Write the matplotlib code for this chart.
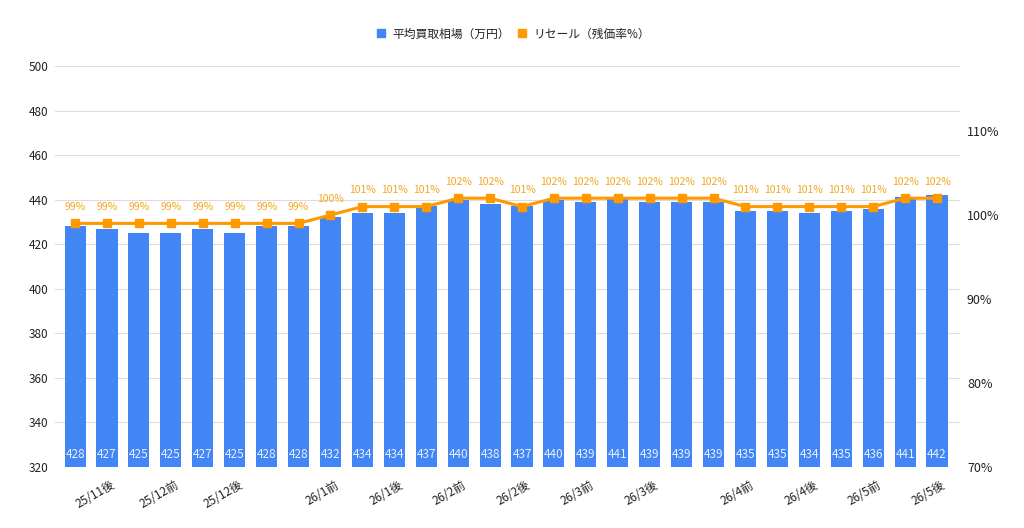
import matplotlib.pyplot as plt
import matplotlib.transforms as mtransforms
from matplotlib.lines import Line2D

plt.rcParams['font.family'] = ['Noto Sans CJK JP', 'DejaVu Sans']

# data
prices = [428, 427, 425, 425, 427, 425, 428, 428, 432, 434, 434, 437, 440, 438,
          437, 440, 439, 441, 439, 439, 439, 435, 435, 434, 435, 436, 441, 442]
resale = [99, 99, 99, 99, 99, 99, 99, 99, 100, 101, 101, 101, 102, 102,
          101, 102, 102, 102, 102, 102, 102, 101, 101, 101, 101, 101, 102, 102]
x_labels = ['', '25/11後', '', '25/12前', '', '25/12後', '', '', '26/1前', '', '26/1後', '', '26/2前', '',
            '26/2後', '', '26/3前', '', '26/3後', '', '', '26/4前', '', '26/4後', '', '26/5前', '', '26/5後']
legend_labels = ['平均買取相場（万円）', 'リセール（残価率%）']

blue = '#4285F4'
orange = '#FF9900'
x = list(range(len(prices)))

fig = plt.figure(figsize=(10.24, 5.28), dpi=100)
ax = fig.add_axes([55 / 1024, 61 / 528, 905 / 1024, 401 / 528])
ax2 = ax.twinx()

# bars
ax.bar(x, prices, width=0.66, color=blue, zorder=2)
for i, v in enumerate(prices):
    ax.annotate(str(v), (i, 320), xytext=(0, 4), textcoords='offset points',
                ha='center', va='bottom', fontsize=8.5, color='#e8efff', zorder=3)

ax.set_ylim(320, 500)
ax.set_yticks(range(320, 501, 20))
ax.set_xlim(-0.63, 27.72)
ax.grid(axis='y', color='#dddddd', linewidth=0.8, zorder=0)
ax.set_axisbelow(True)
ax.tick_params(axis='y', length=0, labelsize=8.5, labelcolor='#222222', pad=19)
for lbl in ax.get_yticklabels():
    lbl.set_horizontalalignment('left')
ax.set_xticks(x)
ax.set_xticklabels(x_labels, rotation=30, ha='right', rotation_mode='anchor',
                   fontsize=8.5, color='#222222')
ax.tick_params(axis='x', length=0, pad=8)
shift = mtransforms.ScaledTranslation(4 / 100, 0, fig.dpi_scale_trans)
for lbl in ax.get_xticklabels():
    lbl.set_transform(lbl.get_transform() + shift)
for s in ax.spines.values():
    s.set_visible(False)

# line
ax2.plot(x, resale, color=orange, linewidth=2.2, marker='s', markersize=6, zorder=4)
for i, v in enumerate(resale):
    ax2.annotate(f'{v}%', (i, v), xytext=(0, 8), textcoords='offset points',
                 ha='center', va='bottom', fontsize=7.5, color='#f5a623')
ax2.set_ylim(70, 70 + 401 / 8.4)
ax2.set_yticks([70, 80, 90, 100, 110])
ax2.set_yticklabels([f'{t}%' for t in [70, 80, 90, 100, 110]])
ax2.tick_params(axis='y', length=0, labelsize=9, labelcolor='#222222', pad=5)
for s in ax2.spines.values():
    s.set_visible(False)

# legend
handles = [Line2D([], [], marker='s', color=blue, linestyle='', markersize=6),
           Line2D([], [], marker='s', color=orange, linestyle='', markersize=6)]
fig.legend(handles, legend_labels, loc='center', bbox_to_anchor=(0.5, 1 - 34 / 528),
           ncol=2, frameon=False, fontsize=8.5, handletextpad=0.3, columnspacing=0.4,
           handlelength=1.3, labelcolor='#222222')

fig.savefig('out.png', dpi=100)
